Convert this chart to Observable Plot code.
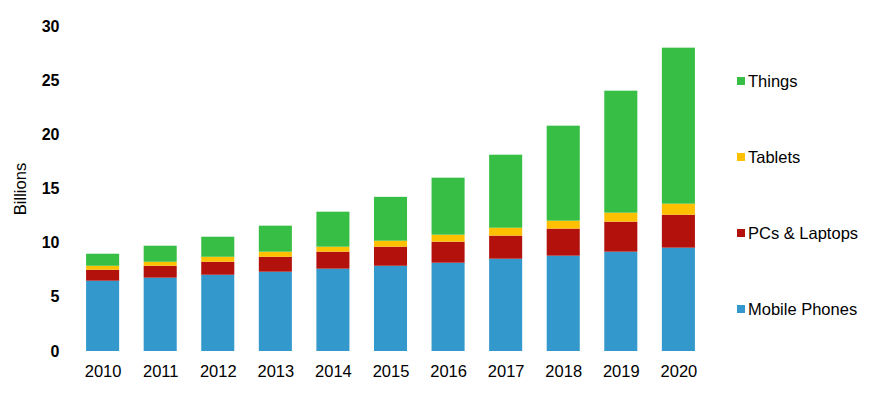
<!DOCTYPE html>
<html>
<head>
<meta charset="utf-8">
<script src="https://cdn.jsdelivr.net/npm/d3@7"></script>
<script src="https://cdn.jsdelivr.net/npm/@observablehq/plot@0.6"></script>
<style>
  body { margin: 0; background: #fff; font-family: "Liberation Sans", Arial, sans-serif; }
  #wrap { position: relative; width: 887px; height: 396px; }
  #legend { position: absolute; left: 737px; top: 0; font-size: 16.5px; color: #000; }
  .item { position: absolute; left: 0; white-space: nowrap; display: flex; align-items: center; height: 20px; line-height: 20px; }
  .sw { width: 8px; height: 8px; margin-right: 3px; flex: none; }
  g[aria-label="x-axis tick label"] { font-size: 16.5px; }
  g[aria-label="y-axis tick label"] { font-size: 16px; font-weight: bold; }
  g[aria-label="y-axis label"] { font-size: 16.5px; font-weight: normal; }
</style>
</head>
<body>
<div id="wrap"><div id="legend"></div></div>
<script>
const years = ["2010","2011","2012","2013","2014","2015","2016","2017","2018","2019","2020"];
const series = ["Mobile Phones","PCs & Laptops","Tablets","Things"];
const colors = ["#3398cb","#b2110c","#ffc000","#37be44"];
const mobilePhones = [6.49, 6.77, 7.04, 7.32, 7.60, 7.87, 8.15, 8.52, 8.80, 9.17, 9.54];
const pcsLaptops  = [1.01, 1.10, 1.20, 1.38, 1.57, 1.76, 1.94, 2.13, 2.50, 2.77, 3.04];
const tablets     = [0.37, 0.37, 0.46, 0.47, 0.46, 0.55, 0.65, 0.73, 0.73, 0.83, 1.02];
const things      = [1.11, 1.48, 1.85, 2.40, 3.23, 4.05, 5.26, 6.74, 8.77, 11.26, 14.40];
const yTicks = [0, 5, 10, 15, 20, 25, 30];

const seriesValues = [mobilePhones, pcsLaptops, tablets, things];
const data = [];
series.forEach((s, i) => years.forEach((y, j) => data.push({year: y, series: s, value: seriesValues[i][j]})));

const chart = Plot.plot({
  width: 887,
  height: 396,
  marginLeft: 74,
  marginRight: 180,
  marginTop: 26,
  marginBottom: 45,
  style: { fontFamily: "Liberation Sans, Arial, sans-serif", color: "#000", background: "#fff" },
  x: { domain: years, paddingInner: 0.426, paddingOuter: 0.21, round: false, label: null },
  y: { domain: [0, 30], label: null },
  color: { domain: series, range: colors },
  marks: [
    Plot.gridY(yTicks, { stroke: "#d9d9d9", strokeOpacity: 1, strokeWidth: 1.5, x1: 73, x2: 710 }),
    Plot.barY(data, { x: "year", y: "value", fill: "series", order: series }),
    Plot.axisX({ tickSize: 0, tickPadding: 14 }),
    Plot.axisY({ ticks: yTicks, tickSize: 0, tickPadding: 15,
                 label: "Billions", labelAnchor: "center", labelArrow: "none", labelOffset: 60 })
  ]
});
document.getElementById("wrap").prepend(chart);
chart.style.position = "absolute"; chart.style.left = "0"; chart.style.top = "0";

const legendItems = [
  { name: "Things", color: colors[3], center: 81 },
  { name: "Tablets", color: colors[2], center: 157 },
  { name: "PCs & Laptops", color: colors[1], center: 233 },
  { name: "Mobile Phones", color: colors[0], center: 309 }
];
const leg = document.getElementById("legend");
legendItems.forEach(d => {
  const div = document.createElement("div");
  div.className = "item";
  div.style.top = (d.center - 10) + "px";
  div.innerHTML = `<span class="sw" style="background:${d.color}"></span><span>${d.name}</span>`;
  leg.appendChild(div);
});
</script>
</body>
</html>
